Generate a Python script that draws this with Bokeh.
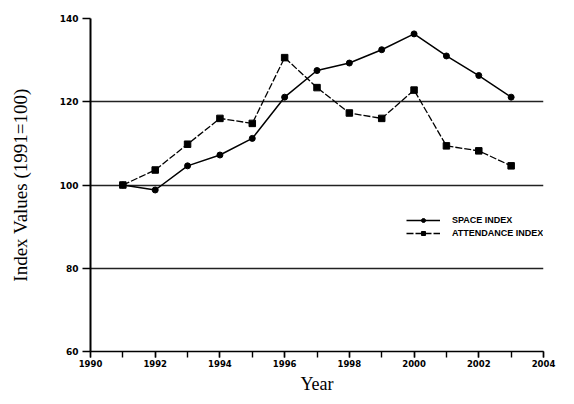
from bokeh.plotting import figure
from bokeh.models import Range1d, SingleIntervalTicker, FixedTicker, Legend, LegendItem
from bokeh.embed import file_html
from bokeh.resources import INLINE

years = [1991, 1992, 1993, 1994, 1995, 1996, 1997, 1998, 1999, 2000, 2001, 2002, 2003]
space_index = [100, 98.8, 104.6, 107.2, 111.2, 121.1, 127.5, 129.3, 132.5, 136.3, 131.0, 126.3, 121.1]
attendance_index = [100, 103.6, 109.8, 116.0, 114.8, 130.6, 123.4, 117.3, 116.0, 122.8, 109.4, 108.2, 104.6]
y_ticks = [60, 80, 100, 120, 140]

p = figure(width=558, height=396, output_backend="svg", toolbar_location=None,
           x_range=Range1d(1990, 2004), y_range=Range1d(60, 140),
           min_border_left=90, min_border_right=15, min_border_top=18, min_border_bottom=44)
p.outline_line_color = None
p.background_fill_color = "white"

# grid
p.xgrid.grid_line_color = None
p.ygrid.ticker = FixedTicker(ticks=y_ticks)
p.ygrid.grid_line_color = "#222222"
p.ygrid.grid_line_width = 1.3

# x axis
xa = p.xaxis[0]
xa.ticker = SingleIntervalTicker(interval=2, num_minor_ticks=2)
xa.axis_line_color = "black"
xa.axis_line_width = 1.6
xa.major_tick_in = 0
xa.major_tick_out = 6
xa.minor_tick_in = 0
xa.minor_tick_out = 6
xa.major_tick_line_width = 1.4
xa.minor_tick_line_width = 1.4
xa.major_tick_line_color = "black"
xa.minor_tick_line_color = "black"
xa.major_label_text_font = "DejaVu Sans"
xa.major_label_text_font_style = "bold"
xa.major_label_text_font_size = "8.5px"
xa.major_label_text_color = "black"
xa.major_label_standoff = 2
xa.axis_label = "Year"
xa.axis_label_text_font = "Liberation Serif"
xa.axis_label_text_font_style = "normal"
xa.axis_label_text_font_size = "18px"
xa.axis_label_text_color = "black"
xa.axis_label_standoff = 4

# y axis
ya = p.yaxis[0]
ya.ticker = FixedTicker(ticks=y_ticks)
ya.axis_line_color = "black"
ya.axis_line_width = 2
ya.major_tick_in = 0
ya.major_tick_out = 8
ya.major_tick_line_width = 1.4
ya.major_tick_line_color = "black"
ya.minor_tick_line_color = None
ya.major_label_text_font = "DejaVu Sans"
ya.major_label_text_font_style = "bold"
ya.major_label_text_font_size = "9px"
ya.major_label_text_color = "black"
ya.major_label_standoff = 4
ya.axis_label = "Index Values (1991=100)"
ya.axis_label_text_font = "Liberation Serif"
ya.axis_label_text_font_style = "normal"
ya.axis_label_text_font_size = "19px"
ya.axis_label_text_color = "black"
ya.axis_label_standoff = 26

# series
l1 = p.line(years, space_index, line_color="black", line_width=1.5)
s1 = p.scatter(years, space_index, marker="circle", size=6, fill_color="black", line_color="black")
l2 = p.line(years, attendance_index, line_color="black", line_width=1.3, line_dash="7 2")
s2 = p.scatter(years, attendance_index, marker="square", size=6.5, fill_color="black", line_color="black")

legend = Legend(items=[
    LegendItem(label="SPACE INDEX", renderers=[l1, s1]),
    LegendItem(label="ATTENDANCE INDEX", renderers=[l2, s2]),
], location=(316, 113))
legend.border_line_color = None
legend.background_fill_alpha = 0
legend.padding = 0
legend.margin = 0
legend.spacing = 3
legend.glyph_width = 34
legend.glyph_height = 10
legend.label_height = 10
legend.label_standoff = 12
legend.label_text_font = "Liberation Sans"
legend.label_text_font_size = "9px"
legend.label_text_font_style = "bold"
legend.label_text_color = "black"
p.add_layout(legend, "center")

open("out.html", "w").write(file_html(p, INLINE))
